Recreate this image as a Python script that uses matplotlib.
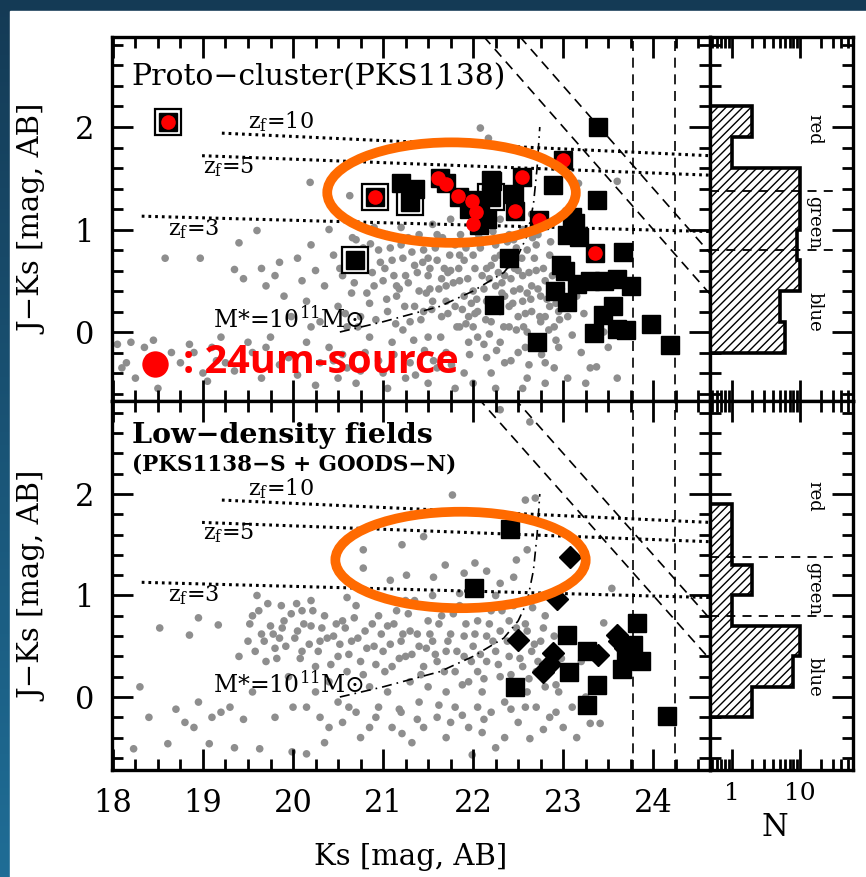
import matplotlib

matplotlib.use("Agg")
import matplotlib.pyplot as plt
import numpy as np
from matplotlib.colors import LinearSegmentedColormap
from matplotlib.patches import Ellipse, Rectangle
from matplotlib.ticker import LogLocator, MultipleLocator, NullFormatter

plt.rcParams["font.family"] = "DejaVu Serif"
plt.rcParams["mathtext.fontset"] = "dejavuserif"
plt.rcParams["hatch.linewidth"] = 1.0

# ---- proto-cluster field (PKS1138) ----
pc_field_ks = [
    18.05, 18.10, 18.20, 18.25, 18.35, 18.45, 18.50, 18.58, 18.65, 18.75, 18.85, 18.97, 19.00, 19.10, 19.20,
    19.25, 19.35, 19.40, 19.45, 19.50, 19.55, 19.60, 19.65, 19.70, 19.75, 19.80, 19.85, 19.90, 19.95, 19.98,
    20.05, 20.10, 20.15, 20.20, 20.19, 20.25, 20.30, 20.35, 20.40, 20.45, 20.50, 20.55, 20.60, 20.63, 20.65,
    20.70, 20.75, 20.80, 20.85, 20.90, 20.95, 20.30, 20.50, 20.80, 20.15, 20.90, 20.40, 20.60, 20.20, 20.85,
    21.00, 21.05, 21.10, 21.10, 21.15, 21.20, 21.20, 21.25, 21.30, 21.30, 21.35, 21.40, 21.45, 21.45, 21.50,
    21.50, 21.55, 21.60, 21.60, 21.65, 21.70, 21.70, 21.75, 21.80, 21.80, 21.85, 21.85, 21.90, 21.90, 21.95,
    21.95, 21.00, 21.25, 21.40, 21.55, 21.75, 21.60, 21.90, 21.15, 21.35, 21.65, 21.85, 21.05, 21.50, 21.70,
    22.00, 22.00, 22.05, 22.05, 22.10, 22.10, 22.15, 22.15, 22.20, 22.20, 22.25, 22.25, 22.30, 22.30, 22.35,
    22.35, 22.40, 22.40, 22.45, 22.45, 22.50, 22.50, 22.55, 22.55, 22.60, 22.60, 22.65, 22.65, 22.70, 22.70,
    22.75, 22.75, 22.80, 22.80, 22.85, 22.85, 22.90, 22.90, 22.95, 22.95, 22.10, 22.30, 22.55, 22.20, 22.60,
    22.00, 22.40, 22.50, 22.70, 22.30, 22.15, 22.60, 22.80, 22.35, 22.90, 22.45, 22.08, 22.17, 22.90, 22.65,
    23.05, 23.10, 23.15, 23.20, 23.23, 23.30, 23.37, 23.45, 23.50, 23.60, 23.17, 23.60, 23.05, 23.25,
]
pc_field_jk = [
    -0.12, -0.35, -0.10, -0.45, -0.15, -0.08, -0.55, 0.72, -0.20, -0.30, -0.12, 0.72, -0.40, -0.15, -0.05,
    -0.30, 0.61, 0.87, 0.52, -0.10, -0.20, 0.99, 0.62, 0.45, -0.05, 0.55, 0.68, 0.35, -0.25, 0.15,
    0.72, 0.50, 0.30, 0.85, 1.46, 0.60, 0.10, 0.45, -0.15, 0.75, 0.25, 0.55, -0.35, 1.33, 0.38,
    0.90, 0.15, 0.62, -0.05, 0.45, 0.80, -0.30, -0.45, -0.20, -0.10, 1.02, 1.00, 0.05, 0.05, 0.28,
    0.50, 0.20, 0.70, -0.10, 0.35, 0.85, 1.02, 0.55, 0.10, -0.30, 0.65, 0.40, 0.20, 0.80, -0.05,
    0.55, 0.30, 0.70, 0.95, 0.15, 0.45, -0.20, 0.60, 0.25, 0.85, 0.05, 0.50, 0.35, 0.70, -0.10,
    0.15, -0.40, 0.90, 0.95, 1.05, 1.10, -0.35, -0.40, 0.45, 0.25, 0.52, 0.75, 0.95, 0.72, 0.30,
    0.40, 0.75, 0.20, -0.05, 0.55, 0.90, 0.30, -0.25, 0.65, 0.10, 0.45, 0.85, 0.20, -0.10, 0.55,
    0.35, 0.05, 0.95, 0.40, 0.70, 0.15, -0.20, 0.55, 0.30, 0.00, 0.80, 0.45, 0.20, 0.60, -0.10,
    0.35, 0.10, 0.50, -0.30, 0.25, 0.75, 0.05, 0.45, 0.20, -0.15, 1.05, 1.10, 1.00, -0.40, -0.45,
    0.05, 0.25, 0.60, 0.85, 0.75, 0.62, 0.38, 0.15, -0.30, -0.35, 0.90, 1.99, 1.89, 1.38, 1.15,
    0.15, -0.03, 0.35, -0.20, 0.18, -0.35, -0.34, 0.00, -0.15, -0.45, 1.45, 1.47, 0.55, -0.50,
]
# fainter part of the same field sample, as (Ks, J-Ks)
pc_field_faint = [
    (20.52, 0.62), (20.58, 0.18), (20.62, 0.72), (20.68, 0.48), (20.72, 0.05), (20.78, 0.82), (20.82, 0.38),
    (20.88, 0.58), (20.92, 0.12), (20.97, 0.68), (20.55, -0.22), (20.75, -0.38), (20.95, -0.28), (20.66, 0.92),
    (20.86, 0.86), (21.02, 0.62), (21.04, 0.32), (21.08, 0.82), (21.12, 0.55), (21.14, 0.08), (21.18, 0.42),
    (21.22, 0.72), (21.24, 0.25), (21.28, 0.48), (21.32, 0.78), (21.34, -0.08), (21.38, 0.58), (21.42, 0.12),
    (21.44, 0.68), (21.48, 0.38), (21.12, -0.22), (21.36, -0.42), (21.46, -0.18), (21.22, 0.02), (21.28, 0.92),
    (21.52, 0.62), (21.54, 0.22), (21.58, 0.82), (21.62, 0.42), (21.64, -0.05), (21.68, 0.62), (21.72, 0.18),
    (21.74, 0.75), (21.78, 0.48), (21.82, 0.05), (21.84, 0.62), (21.88, 0.22), (21.92, 0.82), (21.94, 0.52),
    (21.98, 0.28), (21.56, -0.28), (21.76, -0.32), (21.96, -0.22), (21.66, 0.92), (21.86, 0.95), (21.52, 0.42),
    (21.72, 0.58), (21.92, 0.08), (22.02, 0.62), (22.04, 0.32), (22.08, 0.82), (22.12, 0.42), (22.14, 0.12),
    (22.18, 0.52), (22.22, 0.28), (22.24, 0.72), (22.28, 0.58), (22.32, 0.38), (22.34, 0.05), (22.38, 0.65),
    (22.42, 0.52), (22.44, 0.28), (22.48, 0.82), (22.12, -0.12), (22.26, -0.18), (22.42, -0.28), (22.48, 0.02),
    (22.06, 0.95), (22.22, 0.98), (22.38, 0.88), (22.18, -0.02), (22.32, 0.48), (22.46, 0.62), (22.02, 0.18),
    (22.52, 0.42), (22.54, 0.72), (22.58, 0.18), (22.62, 0.58), (22.64, 0.32), (22.68, 0.72), (22.72, 0.42),
    (22.74, 0.15), (22.78, 0.62), (22.82, 0.32), (22.84, 0.02), (22.88, 0.55), (22.92, 0.28), (22.94, 0.68),
    (22.98, 0.42), (22.58, -0.15), (22.76, -0.22), (22.92, -0.08), (22.66, 0.92), (22.86, 0.88), (22.56, 0.05),
    (22.72, 0.95), (22.96, 0.12), (22.62, -0.32), (19.05, -0.48), (19.35, -0.38), (19.65, -0.45), (19.85, -0.32),
    (20.05, -0.42), (20.25, -0.52), (20.45, -0.28), (20.70, -0.50), (21.05, -0.55), (21.25, -0.45), (21.50, -0.50),
    (21.80, -0.55), (22.00, -0.50), (22.25, -0.55), (22.55, -0.55), (22.80, -0.50), (23.05, -0.45), (18.15, -0.30),
    (18.40, -0.25), (18.90, -0.20), (19.15, -0.28), (19.70, -0.15),
]

pc_red_ks = [
    23.39, 23.00, 22.89, 23.37, 22.54, 22.21, 22.45, 22.46, 22.03, 22.08, 22.06, 21.84, 21.63, 21.70, 22.73,
    23.13, 23.18, 23.04, 23.35, 22.40, 22.97, 23.02, 22.91, 23.04, 23.15, 23.30, 23.45, 23.60, 23.75, 23.66,
    22.23, 23.55, 23.44, 23.34, 23.60, 23.70, 23.98, 24.19, 22.71, 21.20, 21.35, 22.20, 21.95, 22.15, 23.10,
]
pc_red_jk = [
    2.00, 1.68, 1.43, 1.29, 1.51, 1.47, 1.35, 1.18, 1.29, 1.18, 1.04, 1.32, 1.50, 1.45, 1.09,
    1.06, 0.93, 0.95, 0.77, 0.72, 0.65, 0.60, 0.40, 0.29, 0.47, 0.50, 0.50, 0.52, 0.45, 0.78,
    0.26, 0.25, 0.17, -0.01, 0.03, 0.02, 0.08, -0.13, -0.10, 1.45, 1.40, 1.48, 1.20, 1.10, 1.12,
]
pc_boxed_ks = [18.61, 20.91, 20.69, 21.30, 22.20]
pc_boxed_jk = [2.05, 1.32, 0.70, 1.27, 1.32]
pc_mips_ks = [18.61, 20.91, 21.61, 21.70, 21.83, 21.99, 22.03, 22.00, 22.46, 22.54, 23.00, 22.73, 23.35]
pc_mips_jk = [2.05, 1.32, 1.50, 1.44, 1.33, 1.28, 1.17, 1.05, 1.18, 1.51, 1.68, 1.09, 0.77]

# ---- low-density fields (PKS1138-S + GOODS-N) ----
gen_field_ks = [
    21.77, 22.58, 22.69, 22.30, 22.63, 21.21, 21.45, 20.78, 20.78, 21.69, 22.02, 22.15, 22.45, 22.48, 22.60,
    21.26, 21.56, 21.08, 22.06, 22.30, 21.90, 23.54, 23.45,
    18.52, 18.85, 18.95, 19.17, 18.23, 18.61, 19.07, 19.63, 19.99, 20.15, 21.21, 21.32, 18.70, 18.80, 18.95,
    19.10, 19.30, 19.45, 19.55, 19.60, 19.87, 20.04, 19.50, 19.55, 19.65, 19.70, 19.75, 19.80, 19.85, 19.90,
    19.95, 19.40,
    20.05, 20.10, 20.10, 20.15, 20.20, 20.25, 20.30, 20.30, 20.35, 20.40, 20.45, 20.50, 20.50, 20.55, 20.60,
    20.65, 20.70, 20.70, 20.75, 20.80, 20.85, 20.90, 20.95, 20.95, 20.20, 20.60, 20.40, 20.85, 20.25, 20.55,
    21.00, 21.05, 21.05, 21.10, 21.15, 21.20, 21.20, 21.25, 21.30, 21.30, 21.35, 21.40, 21.40, 21.45, 21.50,
    21.50, 21.55, 21.60, 21.60, 21.65, 21.70, 21.70, 21.75, 21.80, 21.80, 21.85, 21.90, 21.90, 21.95, 21.95,
    21.10, 21.45, 21.75, 21.25, 21.55, 21.85, 21.99, 21.00,
    22.00, 22.05, 22.05, 22.10, 22.15, 22.15, 22.20, 22.20, 22.25, 22.30, 22.30, 22.35, 22.40, 22.40, 22.45,
    22.50, 22.50, 22.55, 22.60, 22.60, 22.65, 22.70, 22.70, 22.75, 22.80, 22.85, 22.85, 22.90, 22.95, 23.00,
    22.10, 22.35, 22.63, 22.25, 22.55, 22.80, 22.45, 22.05,
    23.05, 23.10, 23.20, 23.30, 23.41, 23.15, 23.25,
]
gen_field_jk = [
    1.99, 1.94, 1.96, 2.83, 2.71, 1.50, 1.58, 1.45, 1.27, 1.30, 1.32, 1.24, 1.18, 1.35, 1.45,
    1.20, 1.18, 1.15, 1.09, 1.12, 1.22, 1.07, 0.73,
    0.68, 0.61, 0.78, 0.71, -0.51, -0.46, -0.46, -0.51, -0.54, -0.56, -0.36, -0.45, -0.12, -0.25, -0.05,
    -0.20, -0.10, -0.22, 0.05, 1.00, 0.90, 0.92, 0.55, 0.80, 0.62, 0.35, 0.70, 0.48, 0.58, 0.75,
    0.20, 0.40,
    0.65, 0.85, 0.45, -0.10, 0.70, 0.30, 0.55, -0.20, 0.80, 0.15, 0.60, 0.40, -0.05, 0.75, 0.25,
    0.55, -0.15, 0.90, 0.35, 0.65, 0.10, 0.50, -0.10, 0.80, 0.95, 0.98, -0.30, -0.30, 0.05, -0.25,
    0.45, 0.70, 0.05, 0.30, 0.85, 0.55, -0.15, 0.40, 0.65, 0.15, 0.95, 0.50, -0.05, 0.30, 0.75,
    0.10, 0.55, 0.35, -0.20, 0.80, 0.45, 0.05, 0.62, 0.25, -0.10, 0.90, 0.40, 0.60, 0.15, -0.30,
    -0.30, -0.30, -0.25, 0.95, 1.00, 1.02, -0.57, 0.98,
    0.50, 0.75, 0.25, 0.05, 0.60, 0.35, -0.15, 0.85, 0.45, 0.20, 0.65, -0.05, 0.40, 0.75, 0.15,
    0.55, -0.25, 0.30, 0.65, 0.05, 0.45, -0.10, 0.25, 0.55, 0.10, 0.35, -0.20, 0.60, 0.05, -0.30,
    -0.35, -0.40, -0.41, 1.00, 0.95, 0.80, 0.90, -0.10,
    0.20, -0.10, 0.35, -0.26, -0.26, -0.40, 0.00,
]
gen_field_faint = [
    (19.52, 0.72), (19.58, 0.45), (19.62, 0.85), (19.68, 0.55), (19.72, 0.92), (19.78, 0.62), (19.82, 0.38),
    (19.88, 0.68), (19.92, 0.50), (19.98, 0.82), (20.02, 0.58), (20.08, 0.38), (20.12, 0.72), (20.18, 0.52),
    (20.22, 0.85), (20.28, 0.45), (20.32, 0.68), (20.38, 0.58), (20.42, 0.32), (20.48, 0.72), (20.52, 0.52),
    (20.58, 0.68), (20.62, 0.42), (20.68, 0.78), (20.72, 0.58), (20.78, 0.22), (20.82, 0.48), (20.88, 0.72),
    (20.92, 0.32), (20.98, 0.62), (21.02, 0.25), (21.08, 0.52), (21.12, 0.72), (21.18, 0.38), (21.22, 0.62),
    (21.28, 0.82), (21.32, 0.42), (21.38, 0.62), (21.42, 0.22), (21.48, 0.48), (20.62, -0.10), (20.92, -0.20),
    (21.18, -0.12), (21.38, -0.22), (21.52, 0.62), (21.58, 0.42), (21.62, 0.72), (21.68, 0.25), (21.72, 0.55),
    (21.78, 0.82), (21.82, 0.45), (21.88, 0.12), (21.92, 0.72), (21.98, 0.35), (22.02, 0.62), (22.08, 0.42),
    (22.12, 0.18), (22.18, 0.72), (22.22, 0.55), (22.28, 0.32), (22.32, 0.85), (22.38, 0.55), (22.42, 0.22),
    (22.48, 0.68), (21.62, -0.08), (21.88, -0.18), (22.12, -0.22), (22.42, -0.12), (21.70, -0.40), (22.25, -0.50),
    (22.52, 0.38), (22.58, 0.72), (22.62, 0.18), (22.68, 0.52), (22.72, 0.35), (22.78, 0.68), (22.82, 0.22),
    (22.88, 0.48), (22.92, 0.12), (22.98, 0.38), (22.58, -0.10), (22.78, -0.32), (22.92, -0.15), (22.66, 0.88),
    (18.40, -0.20), (18.90, -0.30), (19.20, -0.15), (19.80, -0.20), (20.00, -0.10), (19.35, -0.50), (20.35, -0.45),
    (20.75, -0.40), (18.30, 0.10),
]
gen_red_ks = [22.41, 22.01, 22.47, 23.04, 23.06, 23.26, 23.37, 23.26, 23.82, 23.65, 23.86, 23.78, 23.70, 24.15]
gen_red_jk = [1.66, 1.07, 0.10, 0.61, 0.25, 0.45, 0.12, -0.08, 0.73, 0.28, 0.35, 0.51, 0.40, -0.19]
gen_dia_ks = [23.08, 22.93, 22.50, 22.89, 22.78, 22.85, 23.39, 23.60, 23.69, 23.62]
gen_dia_jk = [1.38, 0.97, 0.56, 0.43, 0.25, 0.33, 0.41, 0.61, 0.48, 0.55]

# ---- model tracks and limits ----
zf_labels = ["10", "5", "3"]
zf_ks_start = [19.21, 18.99, 18.32]
zf_jk_start = [1.94, 1.72, 1.13]
zf_jk_end = [1.72, 1.53, 0.98]
zf_label_ks = [19.50, 19.00, 18.61]
zf_label_jk = [2.05, 1.61, 1.00]

mass_ks = [20.52, 21.00, 21.63, 22.00, 22.34, 22.50, 22.60, 22.67, 22.71, 22.74]
mass_jk = [0.00, 0.10, 0.25, 0.40, 0.58, 0.75, 0.94, 1.25, 1.60, 2.00]

j_limits = [25.0, 25.4]
ks_limits = [23.78, 24.24]

# ---- colour histograms (N per 0.3 mag bin) ----
hist_edges_pc = [-0.2, 0.1, 0.4, 0.7, 1.0, 1.3, 1.6, 1.9, 2.2]
hist_counts_pc = [6, 5, 10, 9, 10, 10, 1, 2]
hist_edges_gen = [-0.2, 0.1, 0.4, 0.7, 1.0, 1.3, 1.6, 1.9]
hist_counts_gen = [2, 8, 10, 1, 2, 1, 1]
class_cuts = [1.38, 0.80]
class_names = ["red", "green", "blue"]
class_label_jk = [1.98, 1.07, 0.20]

KS_RANGE = (17.99, 24.63)
YLIM_PC = (-0.673, 2.878)
YLIM_GEN = (-0.719, 2.916)
N_RANGE = (0.475, 60)

W, H = 866, 877
FRAME_LW = 2.4


def px_axes(fig, x0, y0, x1, y1):
    return fig.add_axes([x0 / W, 1 - y1 / H, (x1 - x0) / W, (y1 - y0) / H])


def style_frame(ax):
    for spine in ax.spines.values():
        spine.set_linewidth(FRAME_LW)
    ax.tick_params(which="both", direction="in", top=True, right=True, width=2.0)
    ax.tick_params(which="major", length=15)
    ax.tick_params(which="minor", length=8)


def draw_cmd(ax, field_ks, field_jk, ylim):
    ax.set_xlim(*KS_RANGE)
    ax.set_ylim(*ylim)
    ax.xaxis.set_major_locator(MultipleLocator(1))
    ax.xaxis.set_minor_locator(MultipleLocator(0.25))
    ax.yaxis.set_major_locator(MultipleLocator(1))
    ax.yaxis.set_minor_locator(MultipleLocator(0.2))
    style_frame(ax)
    ax.tick_params(axis="y", labelsize=22, pad=13)
    ax.tick_params(axis="x", labelsize=22, pad=13)

    ax.scatter(field_ks, field_jk, s=30, color="#8e8e8e", edgecolors="none", zorder=1)

    # passive evolution tracks
    for lab, k0, j0, j1, lk, lj in zip(zf_labels, zf_ks_start, zf_jk_start, zf_jk_end, zf_label_ks, zf_label_jk):
        ax.plot([k0, KS_RANGE[1]], [j0, j1], color="black", lw=2.2, ls=(0, (0.9, 1.3)), zorder=2)
        ax.text(lk, lj, f"z$_\\mathrm{{f}}$={lab}", fontsize=16, ha="left", va="center", zorder=2)

    # stellar-mass limit
    ax.plot(mass_ks, mass_jk, color="black", lw=1.2, ls=(0, (6, 3, 1, 3)), zorder=2)
    ax.text(19.11, 0.12, r"M*=10$^{11}$M$\odot$", fontsize=17, ha="left", va="center", zorder=2)

    # J and Ks completeness limits
    ks_line = np.array(KS_RANGE)
    for jl in j_limits:
        ax.plot(ks_line, jl - ks_line, color="black", lw=1.2, ls=(0, (6, 4)), zorder=2)
    for kl in ks_limits:
        ax.axvline(kl, color="black", lw=1.2, ls=(0, (6, 4)), zorder=2)


def draw_hist(ax, edges, counts, ylim):
    ax.set_xscale("log")
    ax.set_xlim(*N_RANGE)
    ax.set_ylim(*ylim)
    ax.yaxis.set_major_locator(MultipleLocator(1))
    ax.yaxis.set_minor_locator(MultipleLocator(0.2))
    ax.xaxis.set_major_locator(LogLocator(base=10, numticks=5))
    ax.xaxis.set_minor_locator(LogLocator(base=10, subs=np.arange(2, 10), numticks=20))
    ax.xaxis.set_minor_formatter(NullFormatter())
    style_frame(ax)
    ax.tick_params(axis="y", labelleft=False)
    ax.tick_params(axis="x", labelsize=18, pad=9)

    ax.stairs(counts, edges, orientation="horizontal", baseline=0.3, fill=True,
              facecolor="white", edgecolor="black", hatch="////", linewidth=2.6, zorder=2)
    ax.hlines(class_cuts, N_RANGE[0], 30, colors="black", lw=1.3, linestyles=(0, (5, 4)), zorder=3)
    for name, jk in zip(class_names, class_label_jk):
        ax.text(16, jk, name, rotation=-90, fontsize=13, ha="center", va="center", zorder=3)


fig = plt.figure(figsize=(W / 100, H / 100), dpi=100)

bg = fig.add_axes([0, 0, 1, 1], zorder=-10)
bg.axis("off")
bg_cmap = LinearSegmentedColormap.from_list("bg", ["#143a55", "#1f6d96"])
bg.imshow(np.linspace(0, 1, 256)[:, None], cmap=bg_cmap, aspect="auto", extent=[0, 1, 0, 1], origin="upper")
bg.add_patch(Rectangle((10 / W, 0), 1, 1 - 11 / H, color="white"))
bg.set_xlim(0, 1)
bg.set_ylim(0, 1)

ax_pc = px_axes(fig, 112, 37, 710, 401)
ax_gen = px_axes(fig, 112, 401, 710, 770)
hx_pc = px_axes(fig, 710, 37, 853, 401)
hx_gen = px_axes(fig, 710, 401, 853, 770)

faint_ks, faint_jk = zip(*pc_field_faint)
draw_cmd(ax_pc, pc_field_ks + list(faint_ks), pc_field_jk + list(faint_jk), YLIM_PC)
ax_pc.tick_params(axis="x", labelbottom=False)
ax_pc.plot(pc_boxed_ks, pc_boxed_jk, "s", ms=19, mfc="white", mec="black", mew=1.6, ls="none", zorder=4)
ax_pc.plot(pc_boxed_ks, pc_boxed_jk, "s", ms=13, color="black", ls="none", zorder=5)
ax_pc.plot(pc_red_ks, pc_red_jk, "s", ms=13, color="black", ls="none", zorder=5)
ax_pc.plot(pc_mips_ks, pc_mips_jk, "o", ms=10.5, color="#ff0000", mec="none", ls="none", zorder=6)
ax_pc.text(18.21, 2.48, "Proto\u2212cluster(PKS1138)", fontsize=21.5, ha="left", va="center", zorder=3)
ax_pc.add_patch(Ellipse((21.76, 1.36), 2.76, 0.98, fill=False, edgecolor="#ff6a00", lw=7, zorder=10))

# 24um legend
ax_pc.plot([0.072], [0.102], "o", ms=19, color="#ff0000", mec="none", transform=ax_pc.transAxes, zorder=11)
ax_pc.text(0.118, 0.105, ": 24um-source", transform=ax_pc.transAxes, fontsize=28.5, fontweight="bold",
           family=["Open Sans", "DejaVu Sans"], color="#ff0000", ha="left", va="center", zorder=11)

faint_ks, faint_jk = zip(*gen_field_faint)
draw_cmd(ax_gen, gen_field_ks + list(faint_ks), gen_field_jk + list(faint_jk), YLIM_GEN)
ax_gen.plot(gen_red_ks, gen_red_jk, "s", ms=13, color="black", ls="none", zorder=5)
ax_gen.plot(gen_dia_ks, gen_dia_jk, "D", ms=11.5, color="black", ls="none", zorder=5)
ax_gen.text(18.21, 2.58, "Low\u2212density fields", fontsize=20.5, fontweight="bold", ha="left", va="center", zorder=3)
ax_gen.text(18.21, 2.29, "(PKS1138\u2212S + GOODS\u2212N)", fontsize=15.5, fontweight="bold",
            ha="left", va="center", zorder=3)
ax_gen.add_patch(Ellipse((21.86, 1.35), 2.78, 0.95, fill=False, edgecolor="#ff6a00", lw=7, zorder=10))

draw_hist(hx_pc, hist_edges_pc, hist_counts_pc, YLIM_PC)
hx_pc.tick_params(axis="x", labelbottom=False)
draw_hist(hx_gen, hist_edges_gen, hist_counts_gen, YLIM_GEN)
hx_gen.set_xticks([1, 10])
hx_gen.set_xticklabels(["1", "10"])
hx_gen.set_xlim(*N_RANGE)

fig.text(33 / W, 1 - 219 / H, "J\u2212Ks [mag, AB]", rotation=90, fontsize=21, ha="center", va="center")
fig.text(33 / W, 1 - 586 / H, "J\u2212Ks [mag, AB]", rotation=90, fontsize=21, ha="center", va="center")
fig.text(411 / W, 1 - 857 / H, "Ks [mag, AB]", fontsize=21, ha="center", va="center")
fig.text(775 / W, 1 - 828 / H, "N", fontsize=22, ha="center", va="center")

fig.savefig("out.png", dpi=100)
